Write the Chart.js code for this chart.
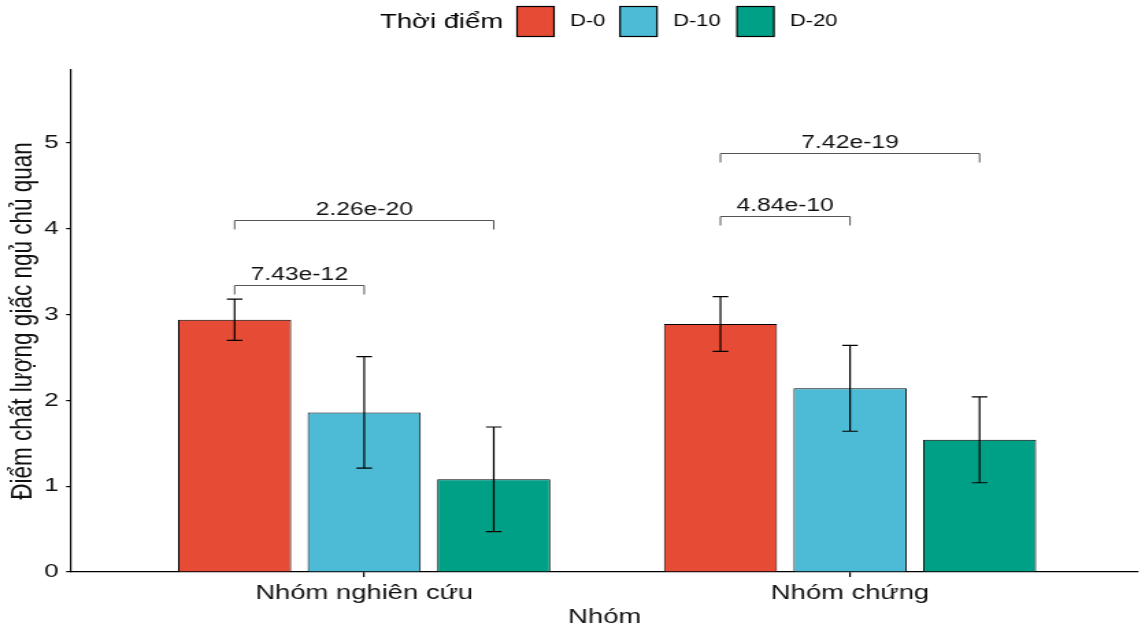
<!DOCTYPE html>
<html>
<head>
<meta charset="utf-8">
<script src="https://cdn.jsdelivr.net/npm/chart.js@4"></script>
<style>
  html, body { margin: 0; padding: 0; background: #fff; overflow: hidden; }
  /* the reference image is stretched horizontally, so draw narrower and stretch */
  #wrap { width: 836px; height: 630px; position: relative; transform: scaleX(1.3696); transform-origin: 0 0; }
</style>
</head>
<body>
<div id="wrap"><canvas id="chart"></canvas></div>
<script>
const categories = ['Nhóm nghiên cứu', 'Nhóm chứng'];
const seriesNames = ['D-0', 'D-10', 'D-20'];
const seriesColors = ['#E64B35', '#4DBBD5', '#00A087'];
const meanD0 = [2.94, 2.89];
const meanD10 = [1.86, 2.14];
const meanD20 = [1.08, 1.54];
const sdD0 = [0.24, 0.32];
const sdD10 = [0.65, 0.50];
const sdD20 = [0.61, 0.50];
const yTicks = [0, 1, 2, 3, 4, 5];
// p-value brackets: group index, from series, to series, height, label
const brackets = [
  [0, 0, 1, 3.345, '7.43e-12'],
  [0, 0, 2, 4.10, '2.26e-20'],
  [1, 0, 1, 4.15, '4.84e-10'],
  [1, 0, 2, 4.88, '7.42e-19']
];

const FONT = '"Liberation Sans", Arial, sans-serif';
const means = [meanD0, meanD10, meanD20];
const sds = [sdD0, sdD10, sdD20];

const datasets = seriesNames.map((name, i) => ({
  label: name,
  data: categories.map((c, j) => ({ x: j + 1, y: means[i][j] })),
  sd: sds[i],
  backgroundColor: seriesColors[i],
  borderColor: '#000',
  borderWidth: 1,
  borderSkipped: 'bottom',
  categoryPercentage: 0.80,
  barPercentage: 0.873
}));

const extras = {
  id: 'extras',
  afterDatasetsDraw(chart) {
    const ctx = chart.ctx;
    const y = chart.scales.y;
    ctx.save();
    // error bars
    ctx.strokeStyle = '#000';
    ctx.lineWidth = 1.2;
    chart.data.datasets.forEach((ds, i) => {
      const meta = chart.getDatasetMeta(i);
      meta.data.forEach((bar, j) => {
        const m = ds.data[j].y, s = ds.sd[j];
        const yt = y.getPixelForValue(m + s), yb = y.getPixelForValue(m - s);
        ctx.beginPath();
        ctx.moveTo(bar.x, yt); ctx.lineTo(bar.x, yb);
        ctx.moveTo(bar.x - 5.7, yt); ctx.lineTo(bar.x + 5.7, yt);
        ctx.moveTo(bar.x - 5.7, yb); ctx.lineTo(bar.x + 5.7, yb);
        ctx.stroke();
      });
    });
    // brackets
    ctx.strokeStyle = '#555';
    ctx.lineWidth = 1;
    ctx.fillStyle = '#111';
    ctx.font = '18px ' + FONT;
    ctx.textAlign = 'center';
    ctx.textBaseline = 'alphabetic';
    brackets.forEach(([g, a, b, h, txt]) => {
      const x1 = chart.getDatasetMeta(a).data[g].x;
      const x2 = chart.getDatasetMeta(b).data[g].x;
      const py = Math.round(y.getPixelForValue(h)) + 0.5;
      ctx.beginPath();
      ctx.moveTo(x1, py + 9); ctx.lineTo(x1, py); ctx.lineTo(x2, py); ctx.lineTo(x2, py + 9);
      ctx.stroke();
      ctx.fillText(txt, (x1 + x2) / 2, py - 6);
    });
    ctx.restore();
  },
  afterDraw(chart) {
    const ctx = chart.ctx;
    ctx.save();
    ctx.fillStyle = '#000';
    ctx.textBaseline = 'middle';
    ctx.textAlign = 'left';
    ctx.font = '20px ' + FONT;
    ctx.fillText('Thời điểm', 277.5, 22);
    const boxX = [377.5, 452.7, 538.1];
    ctx.font = '16px ' + FONT;
    seriesNames.forEach((n, i) => {
      ctx.fillStyle = seriesColors[i];
      ctx.fillRect(boxX[i], 6, 27, 30);
      ctx.strokeStyle = '#000';
      ctx.lineWidth = 1.2;
      ctx.strokeRect(boxX[i], 6.5, 27, 30);
      ctx.fillStyle = '#000';
      ctx.fillText(n, boxX[i] + 38.7, 22);
    });
    ctx.restore();
  }
};

new Chart(document.getElementById('chart'), {
  type: 'bar',
  data: { datasets },
  plugins: [extras],
  options: {
    responsive: true,
    maintainAspectRatio: false,
    animation: false,
    layout: { padding: { top: 70, right: 5, left: 0, bottom: 0 } },
    plugins: { legend: { display: false }, tooltip: { enabled: false } },
    scales: {
      x: {
        type: 'linear',
        min: 0.397,
        max: 2.593,
        offset: false,
        afterBuildTicks: s => { s.ticks = categories.map((c, i) => ({ value: i + 1 })); },
        afterFit: s => { s.height = 58; },
        ticks: {
          callback: v => categories[v - 1],
          color: '#111',
          font: { family: FONT, size: 20 },
          padding: 4,
          maxRotation: 0,
          autoSkip: false
        },
        grid: { offset: false, drawOnChartArea: false, tickLength: 5, color: '#000', lineWidth: 1.2 },
        border: { color: '#000', width: 1.2 },
        title: {
          display: true, text: 'Nhóm', color: '#111',
          font: { family: FONT, size: 20 }, padding: { top: 0, bottom: 1 }
        }
      },
      y: {
        min: 0,
        max: 5.85,
        afterBuildTicks: s => { s.ticks = yTicks.map(v => ({ value: v })); },
        afterFit: s => { s.width = 52; },
        ticks: {
          color: '#111',
          font: { family: FONT, size: 19 },
          padding: 5.5
        },
        grid: { drawOnChartArea: false, tickLength: 3.7, color: '#000', lineWidth: 1.2 },
        border: { color: '#000', width: 1.2 },
        title: {
          display: true, text: 'Điểm chất lượng giấc ngủ chủ quan', color: '#111',
          font: { family: FONT, size: 22.5 }, padding: { top: 3, bottom: 0 }
        }
      }
    }
  }
});
</script>
</body>
</html>
